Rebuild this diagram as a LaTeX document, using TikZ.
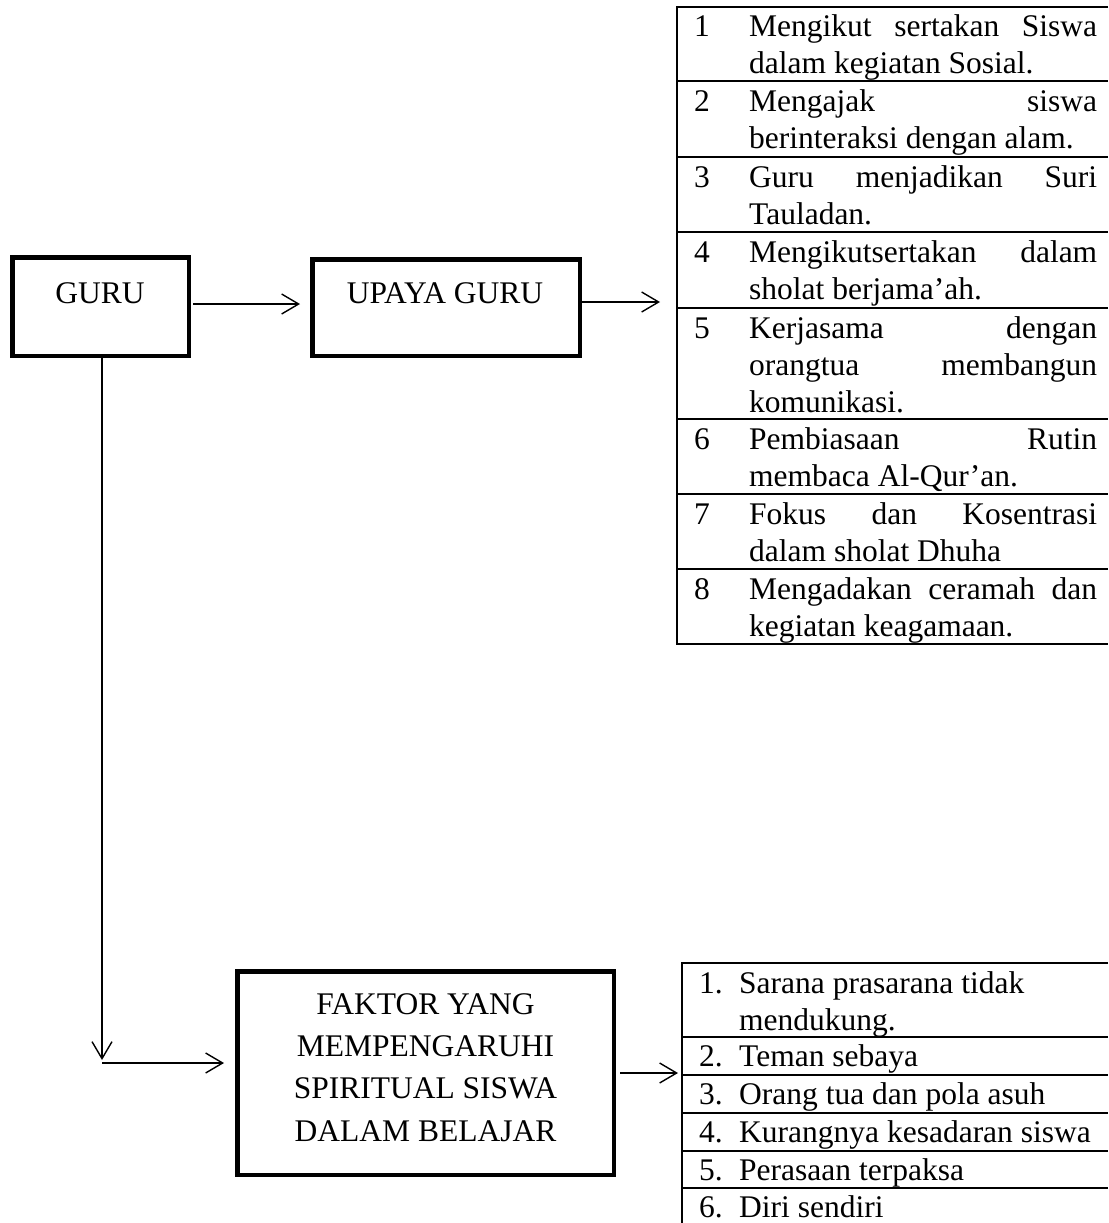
\documentclass[tikz,border=0pt]{standalone}
\usepackage{fontspec}
\setmainfont{Liberation Serif}
\usetikzlibrary{arrows.meta}
\newcommand\fz{\fontsize{31.5}{37}\selectfont}
\newcommand\jl[1]{\makebox[\linewidth][s]{#1}}
\newcommand\rowtext[1]{\parbox[t]{348pt}{\fz #1}}
\begin{document}
\begin{tikzpicture}[x=1pt,y=-1pt,
  box/.style={draw, rectangle, line width=4.5pt, inner sep=0pt},
  lbl/.style={inner sep=0pt, anchor=base, font=\fz},
  num/.style={inner sep=0pt, anchor=base west, font=\fz},
  cell/.style={inner sep=0pt, anchor=base west},
  arr/.style={line width=1.4pt, -{Straight Barb[length=17pt,width=20pt]}},
  rule/.style={line width=2pt}]

\useasboundingbox (0,0) rectangle (1108,1223);

% boxes
\node[box, minimum width=176.5pt, minimum height=98.5pt] (guru) at (100.5,306.5) {};
\node[lbl] (guruT) at (100,303) {GURU};
\node[box, minimum width=267.5pt, minimum height=96.5pt] (upaya) at (446,307.5) {};
\node[lbl] (upayaT) at (445,303) {UPAYA GURU};
\node[box, minimum width=376.5pt, minimum height=203.5pt] (faktor) at (425.5,1073) {};
\node[lbl] (f1) at (425.5,1014) {FAKTOR YANG};
\node[lbl] (f2) at (425.5,1056) {MEMPENGARUHI};
\node[lbl] (f3) at (425.5,1098) {SPIRITUAL SISWA};
\node[lbl] (f4) at (425.5,1141) {DALAM BELAJAR};

% table anchors
\coordinate (t1w) at (677,302);
\coordinate (t2w) at (682,1073);
\coordinate (dn) at (102,1060);
\coordinate (hz) at (102,1063);

% connectors
\draw[arr, shorten <=2pt, shorten >=10pt] ([yshift=2.5pt]guru.east) -- ([yshift=2.5pt]guru.east -| upaya.west);
\draw[arr, shorten >=17pt] ([yshift=5.5pt]upaya.east) -- ([yshift=5.5pt]upaya.east -| t1w);
\draw[arr] (dn |- guru.south) -- (dn);
\draw[arr, shorten >=11pt] (hz) -- (hz -| faktor.west);
\draw[arr, shorten <=4pt, shorten >=4pt] (faktor.east) -- (faktor.east -| t2w);

% top table rules
\draw[rule] (1108,7) -- (677,7) -- (677,644) -- (1108,644);
\foreach \yy in {81,157,232,308,419,494,569} \draw[rule] (677,\yy) -- (1108,\yy);

% top table content
\node[num] (n1) at (694,37) {1};
\node[cell] (c1) at (749,37) {\rowtext{\jl{Mengikut sertakan Siswa}\\dalam kegiatan Sosial.}};
\node[num] (n2) at (694,111) {2};
\node[cell] (c2) at (749,111) {\rowtext{\jl{Mengajak siswa}\\berinteraksi dengan alam.}};
\node[num] (n3) at (694,187) {3};
\node[cell] (c3) at (749,187) {\rowtext{\jl{Guru menjadikan Suri}\\Tauladan.}};
\node[num] (n4) at (694,262) {4};
\node[cell] (c4) at (749,262) {\rowtext{\jl{Mengikutsertakan dalam}\\sholat berjama’ah.}};
\node[num] (n5) at (694,338) {5};
\node[cell] (c5) at (749,338) {\rowtext{\jl{Kerjasama dengan}\\\jl{orangtua membangun}\\komunikasi.}};
\node[num] (n6) at (694,449) {6};
\node[cell] (c6) at (749,449) {\rowtext{\jl{Pembiasaan Rutin}\\membaca Al-Qur’an.}};
\node[num] (n7) at (694,524) {7};
\node[cell] (c7) at (749,524) {\rowtext{\jl{Fokus dan Kosentrasi}\\dalam sholat Dhuha}};
\node[num] (n8) at (694,599) {8};
\node[cell] (c8) at (749,599) {\rowtext{\jl{Mengadakan ceramah dan}\\kegiatan keagamaan.}};

% bottom table rules
\draw[rule] (1108,963) -- (682,963) -- (682,1223);
\foreach \yy in {1037,1075,1113,1151,1188} \draw[rule] (682,\yy) -- (1108,\yy);

% bottom table content
\node[num] (m1) at (699,993) {1.};
\node[num] (b1) at (739,993) {Sarana prasarana tidak};
\node[num] (b1b) at (739,1030) {mendukung.};
\node[num] (m2) at (699,1066) {2.};
\node[num] (b2) at (739,1066) {Teman sebaya};
\node[num] (m3) at (699,1104) {3.};
\node[num] (b3) at (739,1104) {Orang tua dan pola asuh};
\node[num] (m4) at (699,1142) {4.};
\node[num] (b4) at (739,1142) {Kurangnya kesadaran siswa};
\node[num] (m5) at (699,1180) {5.};
\node[num] (b5) at (739,1180) {Perasaan terpaksa};
\node[num] (m6) at (699,1217) {6.};
\node[num] (b6) at (739,1217) {Diri sendiri};
\end{tikzpicture}
\end{document}
